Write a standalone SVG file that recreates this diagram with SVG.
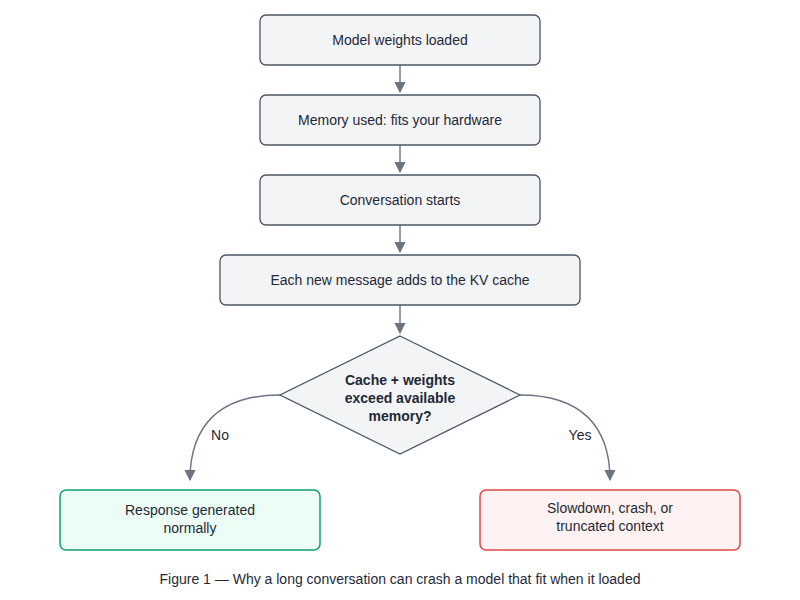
<svg xmlns="http://www.w3.org/2000/svg" width="800" height="600" viewBox="0 0 800 600">
<style>
text{font-family:"Liberation Sans",Arial,sans-serif;font-size:14px;fill:#1f2937;text-anchor:middle}
.b{fill:#f3f4f6;stroke:#4b5563;stroke-width:1.3}
.c{fill:none;stroke:#6b7280;stroke-width:1.4}
</style>
<defs><marker id="a" viewBox="0 0 10 10" refX="9" refY="5" markerWidth="8" markerHeight="8" orient="auto"><path d="M0,0L10,5L0,10z" fill="#6b7280"/></marker></defs>
<rect width="800" height="600" fill="#fff"/>
<g id="connectors">
<path class="c" d="M400,65V92" marker-end="url(#a)"/>
<path class="c" d="M400,145V172" marker-end="url(#a)"/>
<path class="c" d="M400,225V252" marker-end="url(#a)"/>
<path class="c" d="M400,305V333" marker-end="url(#a)"/>
<path class="c" d="M280,395C220,395 190,425 190,480" marker-end="url(#a)"/>
<path class="c" d="M520,395C580,395 610,425 610,480" marker-end="url(#a)"/>
<text x="220" y="440">No</text>
<text x="580" y="440">Yes</text>
</g>
<g id="n1"><rect class="b" x="260" y="15" width="280" height="50" rx="6"/><text x="400" y="45">Model weights loaded</text></g>
<g id="n2"><rect class="b" x="260" y="95" width="280" height="50" rx="6"/><text x="400" y="125">Memory used: fits your hardware</text></g>
<g id="n3"><rect class="b" x="260" y="175" width="280" height="50" rx="6"/><text x="400" y="205">Conversation starts</text></g>
<g id="n4"><rect class="b" x="220" y="255" width="360" height="50" rx="6"/><text x="400" y="285">Each new message adds to the KV cache</text></g>
<g id="d"><path d="M400,336L520,395L400,454L280,395z" fill="#f3f4f6" stroke="#4b5563" stroke-width="1.3"/>
<text font-weight="bold" x="400" y="385">Cache + weights</text><text font-weight="bold" x="400" y="403">exceed available</text><text font-weight="bold" x="400" y="421">memory?</text></g>
<g id="yes"><rect x="60" y="490" width="260" height="60" rx="6" fill="#ecfdf5" stroke="#10a070" stroke-width="1.5"/><text x="190" y="515">Response generated</text><text x="190" y="533">normally</text></g>
<g id="no"><rect x="480" y="490" width="260" height="60" rx="6" fill="#fef2f2" stroke="#e04848" stroke-width="1.5"/><text x="610" y="513">Slowdown, crash, or</text><text x="610" y="531">truncated context</text></g>
<text x="400" y="584">Figure 1 — Why a long conversation can crash a model that fit when it loaded</text>
</svg>
